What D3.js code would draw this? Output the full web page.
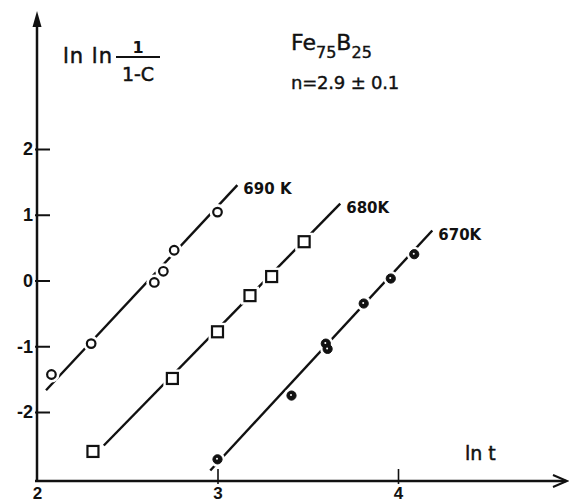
<!DOCTYPE html>
<html lang="en">
<head>
<meta charset="UTF-8">
<title>Fe75B25 ln ln plot</title>
<script src="https://d3js.org/d3.v7.min.js"></script>
<style>
  body { margin: 0; background: #fff; }
  svg { display: block; font-family: "DejaVu Sans", sans-serif; }
</style>
</head>
<body>
<svg id="chart" width="569" height="502"></svg>
<script>
// data (x = ln t, y = ln ln 1/(1-C))
var lnT690 = [2.08, 2.30, 2.65, 2.70, 2.76, 3.00]
var y690   = [-1.43, -0.96, -0.03, 0.14, 0.46, 1.04]
var lnT680 = [2.31, 2.75, 3.00, 3.18, 3.30, 3.48]
var y680   = [-2.60, -1.49, -0.78, -0.23, 0.06, 0.59]
var lnT670 = [3.00, 3.41, 3.60, 3.61, 3.81, 3.96, 4.09]
var y670   = [-2.72, -1.75, -0.96, -1.04, -0.35, 0.03, 0.40]

// fitted lines (start, end)
var fitX690 = [2.05, 3.11], fitY690 = [-1.67, 1.45]
var fitX680 = [2.37, 3.68], fitY680 = [-2.51, 1.17]
var fitX670 = [2.96, 4.19], fitY670 = [-2.89, 0.76]

var seriesNames = ["690 K", "680K", "670K"]
var xTicks = [2, 3, 4]
var yTicks = [-2, -1, 0, 1, 2]

var svg = d3.select("#chart")
var x = d3.scaleLinear().domain([2, 4]).range([37, 398])
var y = d3.scaleLinear().domain([-2, 2]).range([412, 149])
var axisY = 481   // where the ln t axis sits
var ink = "#111"

// y axis: line + filled arrow head
svg.append("line")
  .attr("x1", x(2)).attr("x2", x(2))
  .attr("y1", axisY).attr("y2", 22)
  .attr("stroke", ink).attr("stroke-width", 2.5)
svg.append("path")
  .attr("d", `M${x(2)},11L${x(2) - 4.5},27L${x(2) + 4.5},27Z`)
  .attr("fill", ink)

// x axis: line + open arrow head
svg.append("line")
  .attr("x1", x(2) - 2).attr("x2", 566)
  .attr("y1", axisY).attr("y2", axisY)
  .attr("stroke", ink).attr("stroke-width", 2.5)
svg.append("path")
  .attr("d", `M553,475L567,${axisY}L553,487`)
  .attr("fill", "none").attr("stroke", ink).attr("stroke-width", 2)

// y ticks
var gy = svg.append("g")
  .attr("transform", `translate(${x(2) - 2},0)`)
  .call(d3.axisRight(y).tickValues(yTicks).tickSize(15).tickFormat(d => d < 0 ? "-" + (-d) : d))
gy.select(".domain").remove()
gy.selectAll(".tick line").attr("stroke", ink).attr("stroke-width", 2)
gy.selectAll(".tick text").attr("x", -2).attr("text-anchor", "end")
  .style("font-size", "18px").style("font-weight", "bold").attr("fill", ink)

// x ticks
var gx = svg.append("g")
  .attr("transform", `translate(0,${axisY})`)
  .call(d3.axisBottom(x).tickValues(xTicks).tickSize(3).tickFormat(d3.format("d")))
gx.select(".domain").remove()
gx.selectAll(".tick line").attr("y1", -12).attr("stroke", ink).attr("stroke-width", 1.6)
  .filter(d => d === 2).remove()
gx.selectAll(".tick text").attr("y", 18).attr("dy", 0)
  .style("font-size", "17px").style("font-weight", "bold").attr("fill", ink)

// fitted lines
var fits = [
  {xs: fitX690, ys: fitY690, name: seriesNames[0]},
  {xs: fitX680, ys: fitY680, name: seriesNames[1]},
  {xs: fitX670, ys: fitY670, name: seriesNames[2]}
]
fits.forEach(f => {
  svg.append("line")
    .attr("x1", x(f.xs[0])).attr("y1", y(f.ys[0]))
    .attr("x2", x(f.xs[1])).attr("y2", y(f.ys[1]))
    .attr("stroke", ink).attr("stroke-width", 2.4)
  svg.append("text")
    .attr("x", x(f.xs[1]) + 6).attr("y", y(f.ys[1]) + 9)
    .attr("font-size", 15).attr("font-weight", "bold").attr("fill", ink)
    .text(f.name)
})

// markers, each with a white halo so the line breaks around it
function pts(xs, ys) { return xs.map((v, i) => [v, ys[i]]) }

svg.selectAll(".halo690").data(pts(lnT690, y690)).join("circle")
  .attr("cx", d => x(d[0])).attr("cy", d => y(d[1])).attr("r", 8).attr("fill", "#fff")
svg.selectAll(".m690").data(pts(lnT690, y690)).join("circle")
  .attr("cx", d => x(d[0])).attr("cy", d => y(d[1])).attr("r", 4.3)
  .attr("fill", "#fff").attr("stroke", ink).attr("stroke-width", 2.2)

svg.selectAll(".halo680").data(pts(lnT680, y680)).join("rect")
  .attr("x", d => x(d[0]) - 9).attr("y", d => y(d[1]) - 9)
  .attr("width", 18).attr("height", 18).attr("fill", "#fff")
svg.selectAll(".m680").data(pts(lnT680, y680)).join("rect")
  .attr("x", d => x(d[0]) - 5.5).attr("y", d => y(d[1]) - 5.5)
  .attr("width", 11).attr("height", 11)
  .attr("fill", "#fff").attr("stroke", ink).attr("stroke-width", 2.2)

svg.selectAll(".halo670").data(pts(lnT670, y670)).join("circle")
  .attr("cx", d => x(d[0])).attr("cy", d => y(d[1])).attr("r", 7.5).attr("fill", "#fff")
svg.selectAll(".m670").data(pts(lnT670, y670)).join("circle")
  .attr("cx", d => x(d[0])).attr("cy", d => y(d[1])).attr("r", 4.6)
  .attr("fill", ink).attr("stroke", ink).attr("stroke-width", 1)
svg.selectAll(".dot670").data(pts(lnT670, y670)).join("circle")
  .attr("cx", d => x(d[0]) - 0.5).attr("cy", d => y(d[1]) - 0.5).attr("r", 1)
  .attr("fill", "#fff")

// y axis label: ln ln 1/(1-C)
svg.append("text").attr("x", 63).attr("y", 63)
  .attr("font-size", 21).attr("fill", ink).attr("stroke", ink).attr("stroke-width", 0.5)
  .attr("letter-spacing", 1)
  .text("ln ln")
svg.append("line").attr("x1", 116).attr("x2", 160).attr("y1", 57).attr("y2", 57)
  .attr("stroke", ink).attr("stroke-width", 2.2)
svg.append("text").attr("x", 138).attr("y", 53).attr("text-anchor", "middle")
  .attr("font-size", 16).attr("font-weight", "bold").attr("fill", ink).text("1")
svg.append("text").attr("x", 138).attr("y", 81).attr("text-anchor", "middle")
  .attr("font-size", 19).attr("fill", ink).attr("stroke", ink).attr("stroke-width", 0.5)
  .text("1-C")

// x axis label
svg.append("text").attr("x", 465).attr("y", 460)
  .attr("font-size", 19).attr("fill", ink).attr("stroke", ink).attr("stroke-width", 0.5)
  .text("ln t")

// composition + exponent
var comp = svg.append("text").attr("x", 291).attr("y", 50)
  .attr("font-size", 22).attr("fill", ink).attr("stroke", ink).attr("stroke-width", 0.4)
comp.append("tspan").text("Fe")
comp.append("tspan").attr("font-size", 16).attr("dy", 8).text("75")
comp.append("tspan").attr("dy", -8).text("B")
comp.append("tspan").attr("font-size", 16).attr("dy", 8).text("25")

svg.append("text").attr("x", 291).attr("y", 89)
  .attr("font-size", 18).attr("fill", ink).attr("stroke", ink).attr("stroke-width", 0.4)
  .attr("letter-spacing", -0.2)
  .text("n=2.9 \u00b1 0.1")
</script>
</body>
</html>
